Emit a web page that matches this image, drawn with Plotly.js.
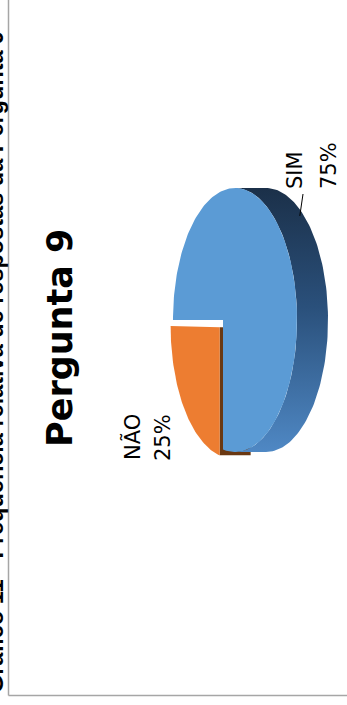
<!DOCTYPE html>
<html>
<head>
<meta charset="utf-8">
<script src="https://cdn.plot.ly/plotly-3.0.1.min.js"></script>
<style>html,body{margin:0;padding:0;background:#fff;}#chart{width:347px;height:705px;}</style>
</head>
<body>
<div id="chart"></div>
<script>
// ---- data ----
const categories = ['SIM', 'NÃO'];
const values = [75, 25];
const chartTitle = 'Pergunta 9';
const captionText = 'Gráfico 11 - Frequência relativa de respostas da Pergunta 9';

// ---- styles ----
const topColors = ['#5b9bd5', '#ed7d31'];
const sideColors = [
  [[0, '#1b3049'], [0.45, '#2a507b'], [1, '#4f88c4']],
  [[0, '#5e3010'], [1, '#8a4a1c']]
];
const cutColors = ['#2b5380', '#6a3812'];
const explodeAmt = [0, 0.08];
const showLeader = [true, false];

// ---- layout geometry (pixels of the 347x705 canvas) ----
const W = 347, H = 705;
const GEO = {cx: 223, cy: 320, sx: 59.7, sy: 129.5, p: 0.1935, depth: 31};
const labelPos = [
  {name: {x: 295, y: 170}, pct: {x: 329, y: 166}},
  {name: {x: 132, y: 437}, pct: {x: 163, y: 438}}
];

function proj(d, w) {
  const k = 1 - GEO.p * d;
  return [GEO.cx + GEO.sx * d / k, GEO.cy + GEO.sy * w / k];
}
function arcPts(a0, a1, off, shift) {
  const n = Math.max(2, Math.ceil(Math.abs(a1 - a0) / (Math.PI / 120)));
  const xs = [], ys = [];
  for (let k = 0; k <= n; k++) {
    const a = a0 + (a1 - a0) * k / n;
    const q = proj(Math.cos(a) + off[0], Math.sin(a) + off[1]);
    xs.push(q[0] + shift); ys.push(q[1]);
  }
  return [xs, ys];
}

const total = values.reduce((s, v) => s + v, 0);
let cum = 0;
const slices = values.map((v, i) => {
  const f0 = cum / total; cum += v; const f1 = cum / total;
  const a0 = Math.PI + 2 * Math.PI * f0, a1 = Math.PI + 2 * Math.PI * f1;
  const am = (a0 + a1) / 2;
  const off = [explodeAmt[i] * Math.cos(am), explodeAmt[i] * Math.sin(am)];
  return {i, a0, a1, am, off, frac: v / total};
});

const traces = [];
const order = slices.slice().sort((s, t) => Math.cos(s.am) - Math.cos(t.am));
const sil = Math.acos(GEO.p);
order.forEach(s => {
  const faces = [];
  if (Math.sin(s.a0) > 1e-6) faces.push(s.a0);
  if (Math.sin(s.a1) < -1e-6) faces.push(s.a1);
  faces.forEach(a => {
    const ap = proj(s.off[0], s.off[1]);
    const rm = proj(Math.cos(a) + s.off[0], Math.sin(a) + s.off[1]);
    traces.push({x: [ap[0], rm[0], rm[0] + GEO.depth, ap[0] + GEO.depth, ap[0]],
      y: [ap[1], rm[1], rm[1], ap[1], ap[1]], mode: 'lines', fill: 'toself',
      fillcolor: cutColors[s.i], line: {width: 0}, hoverinfo: 'skip'});
  });
  for (let k = 0; k <= 2; k++) {
    const lo = Math.max(s.a0, 2 * Math.PI * k - sil), hi = Math.min(s.a1, 2 * Math.PI * k + sil);
    if (hi > lo) {
      const A = arcPts(lo, hi, s.off, 0), B = arcPts(hi, lo, s.off, GEO.depth);
      const ys = A[1].concat(B[1]);
      traces.push({x: A[0].concat(B[0]), y: ys, mode: 'lines', fill: 'toself',
        fillgradient: {type: 'vertical', colorscale: sideColors[s.i],
          start: Math.min.apply(null, ys), stop: Math.max.apply(null, ys)},
        line: {width: 0}, hoverinfo: 'skip'});
    }
  }
  const ap = proj(s.off[0], s.off[1]);
  const A = arcPts(s.a0, s.a1, s.off, 0);
  traces.push({x: [ap[0]].concat(A[0], [ap[0]]), y: [ap[1]].concat(A[1], [ap[1]]),
    mode: 'lines', fill: 'toself', fillcolor: topColors[s.i], line: {width: 0},
    name: categories[s.i], hoverinfo: 'name'});
});

// leader lines
slices.forEach(s => {
  if (!showLeader[s.i]) return;
  const r = proj(Math.cos(s.am) + s.off[0], Math.sin(s.am) + s.off[1]);
  const x0 = r[0] + GEO.depth * 0.9, y0 = r[1] + 2;
  const lp = labelPos[s.i].name;
  traces.push({x: [x0, lp.x + 8], y: [y0, lp.y + 24], mode: 'lines',
    line: {color: '#000', width: 1}, hoverinfo: 'skip'});
});

const px = x => x / W, py = y => 1 - y / H;
const annotations = [];
slices.forEach(s => {
  const lp = labelPos[s.i];
  annotations.push({xref: 'paper', yref: 'paper', x: px(lp.name.x), y: py(lp.name.y),
    text: categories[s.i], textangle: -90, showarrow: false, xanchor: 'center', yanchor: 'middle',
    font: {family: 'DejaVu Sans', size: 21, color: '#000'}});
  annotations.push({xref: 'paper', yref: 'paper', x: px(lp.pct.x), y: py(lp.pct.y),
    text: Math.round(s.frac * 100) + '%', textangle: -90, showarrow: false, xanchor: 'center', yanchor: 'middle',
    font: {family: 'DejaVu Sans', size: 21, color: '#000'}});
});
annotations.push({xref: 'paper', yref: 'paper', x: px(60), y: py(338), text: '<b>' + chartTitle + '</b>',
  textangle: -90, showarrow: false, xanchor: 'center', yanchor: 'middle',
  font: {family: 'DejaVu Sans', size: 35, color: '#000'}});
annotations.push({xref: 'paper', yref: 'paper', x: px(9), y: py(694), text: '<b>' + captionText + '</b>',
  textangle: -90, showarrow: false, xanchor: 'right', yanchor: 'bottom', borderpad: 0,
  font: {family: 'Liberation Sans', size: 23.5, color: '#000'}});

const layout = {
  width: W, height: H, margin: {l: 0, r: 0, t: 0, b: 0, pad: 0},
  paper_bgcolor: '#fff', plot_bgcolor: '#fff', showlegend: false,
  xaxis: {range: [0, W], visible: false, fixedrange: true},
  yaxis: {range: [H, 0], visible: false, fixedrange: true},
  annotations: annotations,
  shapes: [
    {type: 'line', xref: 'paper', yref: 'paper', x0: px(8.5), x1: px(8.5), y0: py(0), y1: py(695.5),
      line: {color: '#a6a6a6', width: 1.5}},
    {type: 'line', xref: 'paper', yref: 'paper', x0: px(8.5), x1: 1, y0: py(695.5), y1: py(695.5),
      line: {color: '#a6a6a6', width: 1.5}}
  ]
};
Plotly.newPlot('chart', traces, layout, {displayModeBar: false, staticPlot: true});
</script>
</body>
</html>
